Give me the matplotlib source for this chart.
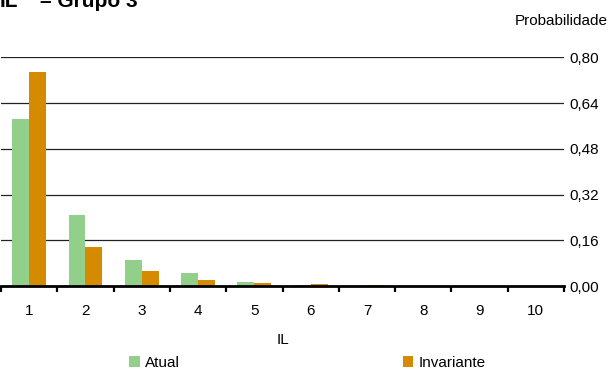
import numpy as np
import matplotlib
matplotlib.use('Agg')
import matplotlib.pyplot as plt
from matplotlib.patches import Patch
from matplotlib.ticker import FixedLocator, FuncFormatter

plt.rcParams['font.family'] = ['Liberation Sans', 'DejaVu Sans']

# Probability distribution of IL, group 3
il_levels = [1, 2, 3, 4, 5, 6, 7, 8, 9, 10]
atual = [0.584, 0.250, 0.090, 0.045, 0.015, 0.003, 0.001, 0.0, 0.0, 0.0]
invariante = [0.748, 0.136, 0.052, 0.022, 0.011, 0.007, 0.004, 0.001, 0.0, 0.0]
y_ticks = [0.00, 0.16, 0.32, 0.48, 0.64, 0.80]

GREEN = '#91cf8a'
ORANGE = '#d68a00'

W, H = 611, 370
fig = plt.figure(figsize=(W / 100, H / 100), dpi=100)
ax = fig.add_axes([1 / W, 1 - 286 / H, 563 / W, (286 - 57.3) / H])

x = np.array(il_levels, dtype=float)
bw = 0.30
ax.bar(x - bw / 2, atual, width=bw, color=GREEN, zorder=3)
ax.bar(x + bw / 2, invariante, width=bw, color=ORANGE, zorder=3)

ax.set_xlim(0.5, 10.5)
ax.set_ylim(0, 0.80)

for y in y_ticks[1:]:
    ax.axhline(y, color='#222222', lw=0.9, zorder=1)

for s in ['left', 'right', 'top']:
    ax.spines[s].set_visible(False)
ax.spines['bottom'].set_linewidth(2.0)
ax.spines['bottom'].set_zorder(4)

ax.set_xticks(il_levels)
ax.set_xticklabels([str(v) for v in il_levels], fontsize=11)
ax.tick_params(axis='x', which='major', length=0, pad=13)
ax.xaxis.set_minor_locator(FixedLocator(np.arange(0.5, 11, 1.0)))
ax.tick_params(axis='x', which='minor', length=4.5, width=1.6, direction='out')

ax.yaxis.tick_right()
ax.set_yticks(y_ticks)
ax.yaxis.set_major_formatter(FuncFormatter(lambda v, p: f'{v:.2f}'.replace('.', ',')))
ax.tick_params(axis='y', length=0, pad=4, labelsize=11)

fig.text(0 / W, 1 - 7 / H, 'IL', fontsize=15, fontweight='bold', va='baseline')
fig.text(40 / W, 1 - 7 / H, '– Grupo 3', fontsize=15, fontweight='bold', va='baseline')
fig.text(608 / W, 1 - 21 / H, 'Probabilidade', fontsize=11, ha='right', va='center')
fig.text(282.5 / W, 1 - 340 / H, 'IL', fontsize=11, ha='center', va='center')

handles = [Patch(facecolor=GREEN, edgecolor='none', label='Atual'),
           Patch(facecolor=ORANGE, edgecolor='none', label='Invariante')]
fig.legend(handles=handles, loc='center', bbox_to_anchor=(307.5 / W, 1 - 363 / H),
           ncol=2, frameon=False, fontsize=11, handlelength=0.67, handleheight=0.67,
           handletextpad=0.35, columnspacing=14.6, borderpad=0, borderaxespad=0)

fig.savefig('out.png', dpi=100)
